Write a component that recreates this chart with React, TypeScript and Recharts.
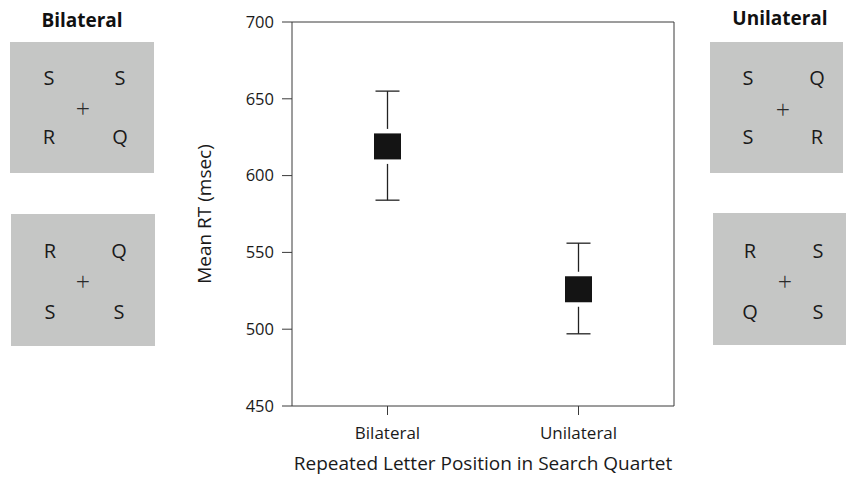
import React from 'react';
import {ErrorBar, ReferenceLine, Scatter, ScatterChart, XAxis, YAxis} from 'recharts';

const categories = ['Bilateral', 'Unilateral'];
const meanRT = [619, 526];
const upperRT = [655, 556];
const lowerRT = [584, 497];
const yTicks = [450, 500, 550, 600, 650, 700];

// search quartets shown beside the chart: [top-left, top-right, bottom-left, bottom-right]
const bilateralDisplays = [['S', 'S', 'R', 'Q'], ['R', 'Q', 'S', 'S']];
const unilateralDisplays = [['S', 'Q', 'S', 'R'], ['R', 'S', 'Q', 'S']];

const data = categories.map((name, i) => ({
    idx: i,
    name,
    rt: meanRT[i],
    err: [meanRT[i] - lowerRT[i], upperRT[i] - meanRT[i]],
}));

const FONT = '"Open Sans", "Noto Sans", sans-serif';
const AXIS = '#3a3a3a';
const TEXT = '#1a1a1a';

const SquareMarker = (props: any) => {
    const {cx, cy} = props;
    if (cx == null || cy == null) return null;
    return (
        <g>
            <rect x={cx - 18} y={cy - 17.5} width={36} height={35} fill="#fff"/>
            <rect x={cx - 13.5} y={cy - 13} width={27} height={26} fill="#141414"/>
        </g>
    );
};

interface PanelProps {
    letters: string[];
    left: number;
    top: number;
    width: number;
    height: number;
    cols: [number, number];
    rows: [number, number];
    cross: [number, number];
}

const Panel = ({letters, left, top, width, height, cols, rows, cross}: PanelProps) => {
    const cell = (ch: string, x: number, y: number, key: string) => (
        <span key={key} style={{position: 'absolute', left: x - 15, top: y - 15, width: 30, height: 30,
            lineHeight: '30px', textAlign: 'center', fontSize: 20, color: TEXT}}>{ch}</span>
    );
    return (
        <div style={{position: 'absolute', left, top, width, height, background: '#c5c6c5', fontFamily: FONT}}>
            {cell(letters[0], cols[0], rows[0], 'a')}
            {cell(letters[1], cols[1], rows[0], 'b')}
            {cell(letters[2], cols[0], rows[1], 'c')}
            {cell(letters[3], cols[1], rows[1], 'd')}
            <span style={{position: 'absolute', left: cross[0] - 15, top: cross[1] - 16, width: 30, height: 30,
                lineHeight: '30px', textAlign: 'center', fontSize: 25, fontWeight: 300, color: '#2a2a2a'}}>+</span>
        </div>
    );
};

export default function App() {
    return (
        <div style={{position: 'absolute', left: 0, top: 0, width: 846, height: 477, background: '#fff', fontFamily: FONT}}>
            <div style={{position: 'absolute', left: 22, top: 7, width: 120, textAlign: 'center',
                fontWeight: 700, fontSize: 19, color: '#111'}}>{categories[0]}</div>
            <div style={{position: 'absolute', left: 720, top: 5, width: 120, textAlign: 'center',
                fontWeight: 700, fontSize: 19, color: '#111'}}>{categories[1]}</div>
            <Panel letters={bilateralDisplays[0]} left={10} top={42} width={144} height={131}
                   cols={[39, 110]} rows={[36, 95]} cross={[73, 67]}/>
            <Panel letters={bilateralDisplays[1]} left={11} top={214} width={144} height={132}
                   cols={[39, 108]} rows={[37, 98]} cross={[72, 68]}/>
            <Panel letters={unilateralDisplays[0]} left={710} top={42} width={133} height={131}
                   cols={[38, 107]} rows={[36, 95]} cross={[73, 68]}/>
            <Panel letters={unilateralDisplays[1]} left={713} top={213} width={133} height={132}
                   cols={[37, 105]} rows={[38, 99]} cross={[72, 69]}/>
            <div style={{position: 'absolute', left: 0, top: 0}}>
                <ScatterChart width={846} height={477} margin={{top: 22, right: 172, bottom: 0, left: 0}}>
                    <XAxis
                        type="number"
                        dataKey="idx"
                        domain={[-0.5, 1.5]}
                        ticks={[0, 1]}
                        tickFormatter={(v: number) => categories[v] ?? ''}
                        height={71}
                        tickSize={9}
                        tickMargin={12}
                        stroke={AXIS}
                        tick={{fill: TEXT, fontSize: 17, fontFamily: FONT}}
                        label={{value: 'Repeated Letter Position in Search Quartet', position: 'insideBottom',
                            offset: 7, fill: TEXT, fontSize: 19, fontFamily: FONT}}
                    />
                    <YAxis
                        type="number"
                        dataKey="rt"
                        domain={[450, 700]}
                        ticks={yTicks}
                        width={292}
                        tickSize={10}
                        tickMargin={8}
                        stroke={AXIS}
                        tick={{fill: TEXT, fontSize: 16.5, fontFamily: FONT}}
                        label={{value: 'Mean RT (msec)', angle: -90, position: 'center', dx: 58,
                            fill: TEXT, fontSize: 19, fontFamily: FONT}}
                    />
                    {/* frame: top and right edges of the plot box */}
                    <ReferenceLine y={700} stroke={AXIS} strokeWidth={1}/>
                    <ReferenceLine x={1.5} stroke={AXIS} strokeWidth={1}/>
                    <Scatter data={data} shape={SquareMarker} isAnimationActive={false}>
                        <ErrorBar dataKey="err" direction="y" width={12} stroke="#222" strokeWidth={1.3}
                                  isAnimationActive={false}/>
                    </Scatter>
                </ScatterChart>
            </div>
        </div>
    );
}
